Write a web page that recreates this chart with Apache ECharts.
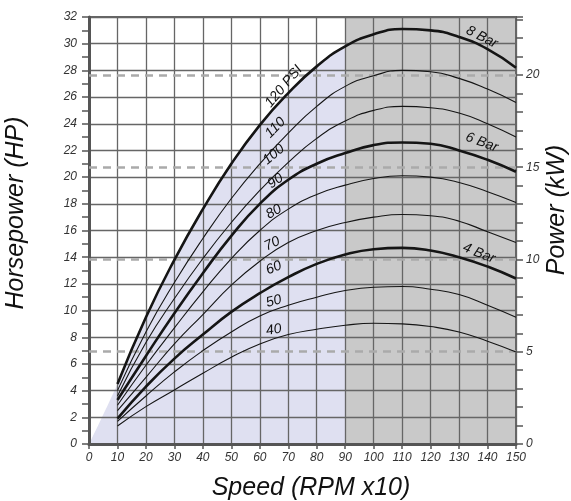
<!DOCTYPE html>
<html>
<head>
<meta charset="utf-8">
<script src="https://cdn.jsdelivr.net/npm/echarts@6/dist/echarts.min.js"></script>
<style>
html, body { margin: 0; padding: 0; background: #fff; }
#main { width: 571px; height: 501px; }
</style>
</head>
<body>
<div id="main"></div>
<script>
// speed (RPM x10) where curves were read
var speed = [10, 20, 30, 40, 50, 60, 70, 80, 90, 100, 110, 120, 130, 140, 150];

// horsepower per pressure curve
var psi120 = [4.5, 9.5, 13.8, 17.6, 21.0, 23.9, 26.3, 28.3, 29.8, 30.7, 31.1, 31.0, 30.5, 29.6, 28.2];
var psi110 = [4.0, 8.4, 12.1, 15.4, 18.4, 21.0, 23.3, 25.3, 26.8, 27.6, 28.0, 27.9, 27.4, 26.6, 25.6];
var psi100 = [3.6, 7.6, 10.9, 13.9, 16.6, 19.0, 21.1, 22.9, 24.2, 25.0, 25.3, 25.2, 24.8, 24.0, 23.0];
var psi90  = [3.3, 6.6, 9.8, 12.8, 15.6, 18.0, 19.8, 21.0, 21.8, 22.4, 22.6, 22.5, 22.0, 21.3, 20.4];
var psi80  = [2.9, 5.9, 8.7, 11.4, 13.9, 16.0, 17.6, 18.7, 19.4, 19.9, 20.1, 20.0, 19.6, 18.9, 18.1];
var psi70  = [2.5, 5.0, 7.5, 9.7, 11.9, 13.7, 15.1, 16.0, 16.6, 17.0, 17.2, 17.1, 16.7, 15.9, 15.1];
var psi60  = [1.9, 4.3, 6.4, 8.2, 9.9, 11.3, 12.5, 13.5, 14.2, 14.6, 14.7, 14.5, 14.0, 13.3, 12.4];
var psi50  = [1.7, 3.6, 5.4, 7.0, 8.4, 9.6, 10.4, 11.0, 11.5, 11.75, 11.8, 11.6, 11.2, 10.4, 9.5];
var psi40  = [1.35, 2.8, 4.05, 5.3, 6.5, 7.5, 8.2, 8.6, 8.9, 9.05, 9.0, 8.8, 8.4, 7.7, 6.9];

var curves = [
  { name: '120', data: psi120, bold: true },
  { name: '110', data: psi110 },
  { name: '100', data: psi100 },
  { name: '90', data: psi90, bold: true },
  { name: '80', data: psi80 },
  { name: '70', data: psi70 },
  { name: '60', data: psi60, bold: true },
  { name: '50', data: psi50 },
  { name: '40', data: psi40 }
];

// dashed guide lines, kW
var kwLines = [5, 10, 15, 20];

// text on the curves: [text, speed, hp, angle]
var curveLabels = [
  ['8 Bar', 138, 30.5, -27],
  ['6 Bar', 138, 22.6, -20],
  ['4 Bar', 137, 14.3, -22],
  ['120 PSI', 68.4, 26.8, 50],
  ['110', 65.5, 23.7, 45],
  ['100', 64.9, 21.7, 40],
  ['90', 65.5, 19.7, 35],
  ['80', 64.9, 17.4, 30],
  ['70', 64.3, 15.0, 25],
  ['60', 64.9, 13.2, 22],
  ['50', 64.9, 10.7, 15],
  ['40', 64.9, 8.55, 10]
];

var hpMax = 32;
var kwMax = 23.14; // 20 kW sits at 27.66 HP on the chart

var chart = echarts.init(document.getElementById('main'));

function pts(vals) {
  return speed.map(function (s, i) { return [s, vals[i]]; });
}

var series = [];

// lavender zone under the 120 PSI curve up to 90
var zone = [[0, 0]];
for (var i = 0; i < speed.length; i++) {
  if (speed[i] <= 90) zone.push([speed[i], psi120[i]]);
}
series.push({
  type: 'line',
  data: zone,
  smooth: true,
  symbol: 'none',
  z: 1,
  lineStyle: { width: 0 },
  areaStyle: { color: '#dfe0f1', opacity: 1 },
  silent: true,
  markArea: {
    silent: true,
    itemStyle: { color: '#c9c9c9' },
    data: [[{ xAxis: 90, yAxis: 0 }, { xAxis: 150, yAxis: hpMax }]]
  }
});

// kW guide lines on the right axis
series.push({
  type: 'line',
  yAxisIndex: 1,
  data: [[0, 0]],
  symbol: 'none',
  z: 4,
  lineStyle: { width: 0 },
  silent: true,
  markLine: {
    silent: true,
    symbol: 'none',
    label: { show: false },
    lineStyle: { color: '#aaa', width: 2.5, type: [8, 6] },
    data: kwLines.map(function (v) { return { yAxis: v }; })
  }
});

curves.forEach(function (c) {
  series.push({
    type: 'line',
    name: c.name,
    data: pts(c.data),
    smooth: true,
    symbol: 'none',
    z: 5,
    lineStyle: { color: '#151515', width: c.bold ? 2.6 : 1.1 }
  });
});

var tickFont = { fontFamily: 'Liberation Sans', fontStyle: 'italic', fontSize: 12, color: '#333' };

chart.setOption({
  animation: false,
  backgroundColor: '#fff',
  grid: {
    left: 89, right: 55, top: 17, bottom: 57,
    show: true, borderColor: '#666', borderWidth: 2
  },
  xAxis: {
    type: 'value',
    min: 0, max: 150, interval: 10,
    z: 3,
    axisLine: { lineStyle: { color: '#555', width: 3 } },
    axisTick: { show: true, length: 5, lineStyle: { color: '#555', width: 1.5 } },
    axisLabel: Object.assign({ margin: 8 }, tickFont),
    splitLine: { show: true, lineStyle: { color: '#666', width: 1.3 } }
  },
  yAxis: [{
    type: 'value',
    min: 0, max: hpMax, interval: 2,
    z: 3,
    axisLine: { show: true, lineStyle: { color: '#555', width: 3 } },
    axisTick: { show: true, length: 7, lineStyle: { color: '#555', width: 1.5 } },
    minorTick: { show: true, splitNumber: 2, length: 7, lineStyle: { color: '#555', width: 1.5 } },
    axisLabel: Object.assign({ margin: 12 }, tickFont),
    splitLine: { show: true, lineStyle: { color: '#666', width: 1.3 } }
  }, {
    type: 'value',
    position: 'right',
    min: 0, max: kwMax, interval: 5,
    z: 3,
    axisLine: { show: true, lineStyle: { color: '#666', width: 2 } },
    axisTick: { show: true, length: 7, lineStyle: { color: '#555', width: 1.5 } },
    minorTick: { show: true, splitNumber: 5, length: 7, lineStyle: { color: '#555', width: 1.5 } },
    axisLabel: Object.assign({ margin: 10, showMaxLabel: false }, tickFont),
    splitLine: { show: false }
  }],
  series: series
});

var titleFont = 'italic 25px "Liberation Sans"';
var graphics = [
  { type: 'text', x: 16, y: 213, rotation: Math.PI / 2,
    style: { text: 'Horsepower (HP)', font: titleFont, fill: '#111', textAlign: 'center', textVerticalAlign: 'middle' } },
  { type: 'text', x: 557, y: 210, rotation: Math.PI / 2,
    style: { text: 'Power (kW)', font: titleFont, fill: '#111', textAlign: 'center', textVerticalAlign: 'middle' } },
  { type: 'text', x: 311, y: 488,
    style: { text: 'Speed (RPM x10)', font: titleFont, fill: '#111', textAlign: 'center', textVerticalAlign: 'middle' } }
];

curveLabels.forEach(function (l) {
  var p = chart.convertToPixel({ gridIndex: 0 }, [l[1], l[2]]);
  graphics.push({
    type: 'text', x: p[0], y: p[1], z: 10,
    rotation: l[3] * Math.PI / 180,
    style: { text: l[0], font: 'italic 14px "Liberation Sans"', fill: '#111', textAlign: 'center', textVerticalAlign: 'middle' }
  });
});

chart.setOption({ graphic: graphics });
</script>
</body>
</html>
